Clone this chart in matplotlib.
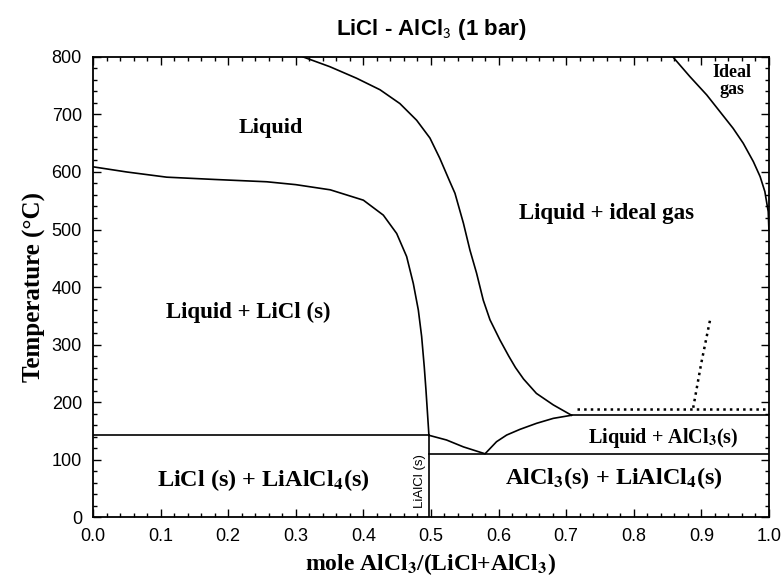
import numpy as np
import matplotlib.pyplot as plt
from matplotlib.ticker import MultipleLocator

plt.rcParams['mathtext.fontset'] = 'stix'

# Phase boundaries (x = mole fraction AlCl3, T in degC)
licl_liq_x = [0.0, 0.05, 0.109, 0.18, 0.257, 0.30, 0.351, 0.40, 0.4295, 0.4493,
              0.464, 0.4739, 0.4813, 0.4862, 0.4901, 0.4926, 0.497]
licl_liq_t = [609, 600, 591, 587, 583, 578, 569, 551, 525, 493,
              453, 406, 360, 314, 261, 221, 142]

vap_x = [0.311, 0.3506, 0.390, 0.4246, 0.454, 0.4788, 0.4985, 0.513, 0.528, 0.5355,
         0.548, 0.5577, 0.5675, 0.5774, 0.5873, 0.602, 0.615, 0.625, 0.637, 0.656,
         0.681, 0.708]
vap_t = [800, 783, 763, 743, 719, 690, 659, 624, 583, 563,
         511, 464, 424, 377, 343, 308, 280, 260, 240, 215,
         195, 177]

gas_x = [0.858, 0.883, 0.908, 0.9275, 0.947, 0.962, 0.977, 0.987, 0.994, 0.999, 1.0]
gas_t = [800, 766, 734, 705, 676, 650, 618, 592, 566, 531, 500]

# eutectic valley between LiAlCl4 and AlCl3
valley_x = [0.4975, 0.523, 0.548, 0.58, 0.5873, 0.597, 0.612, 0.6317, 0.6563, 0.681, 0.708]
valley_t = [142, 134, 122, 110, 119, 131, 142.6, 152.5, 163, 171.6, 177]

dot_x = [0.888, 0.900, 0.913]
dot_t = [190, 268, 343]
dot_h_x = [0.716, 1.0]
dot_h_t = [188, 188]

t_licl_eut = 142
t_alcl3_eut = 110
t_alcl3_sub = 177
x_lialcl4 = 0.4975

xticks = np.arange(0, 1.01, 0.1)
yticks = np.arange(0, 801, 100)

serif = ['Liberation Serif', 'DejaVu Serif']
sans = ['Liberation Sans', 'DejaVu Sans']

fig = plt.figure(figsize=(7.83, 5.79), dpi=100)
ax = fig.add_axes([0.1188, 0.107, 0.8632, 0.7946])

lw = 1.2
ax.plot(licl_liq_x, licl_liq_t, 'k-', lw=lw)
ax.plot(vap_x, vap_t, 'k-', lw=lw)
ax.plot(gas_x, gas_t, 'k-', lw=lw)
ax.plot(valley_x, valley_t, 'k-', lw=lw)
ax.plot([0, x_lialcl4], [t_licl_eut, t_licl_eut], 'k-', lw=lw)
ax.plot([x_lialcl4, 1.0], [t_alcl3_eut, t_alcl3_eut], 'k-', lw=lw)
ax.plot([valley_x[-1], 1.0], [t_alcl3_sub, t_alcl3_sub], 'k-', lw=lw)
ax.plot([x_lialcl4, x_lialcl4], [0, t_licl_eut], 'k-', lw=lw)
ax.plot(dot_x, dot_t, 'k:', lw=1.8)
ax.plot(dot_h_x, dot_h_t, 'k:', lw=1.8)

ax.set_xlim(0, 1)
ax.set_ylim(0, 800)
ax.set_xticks(xticks)
ax.set_yticks(yticks)
ax.set_xticklabels([f'{v:.1f}' for v in xticks], family=sans, fontsize=13)
ax.set_yticklabels([f'{int(v)}' for v in yticks], family=sans, fontsize=13)
ax.xaxis.set_minor_locator(MultipleLocator(0.02))
ax.yaxis.set_minor_locator(MultipleLocator(20))
ax.tick_params(which='both', direction='in', top=True, right=True, width=1.0)
ax.tick_params(which='major', length=6, pad=8)
ax.tick_params(which='minor', length=3)
for s in ax.spines.values():
    s.set_linewidth(1.3)

ax.set_title(r'LiCl - AlCl$_\mathsf{3}$ (1 bar)', family=sans, fontsize=16,
             fontweight='bold', pad=16)
ax.set_xlabel(r'mole AlCl$_\mathbf{3}$/(LiCl+AlCl$_\mathbf{3}$)', family=serif,
              fontsize=17, fontweight='bold', labelpad=4)
ax.set_ylabel('Temperature (°C)', family=serif, fontsize=18, fontweight='bold', labelpad=4)

lab = dict(family=serif, fontweight='bold', ha='center', va='center')
ax.text(0.263, 677, 'Liquid', fontsize=16, **lab)
ax.text(0.229, 356, 'Liquid + LiCl (s)', fontsize=16.5, **lab)
ax.text(0.760, 528, 'Liquid + ideal gas', fontsize=16.5, **lab)
ax.text(0.945, 758, 'Ideal\ngas', fontsize=13, linespacing=0.95, **lab)
ax.text(0.843, 137, r'Liquid + AlCl$_\mathbf{3}$(s)', fontsize=14.5, **lab)
ax.text(0.771, 68, r'AlCl$_\mathbf{3}$(s) + LiAlCl$_\mathbf{4}$(s)', fontsize=17.5, **lab)
ax.text(0.252, 64, r'LiCl (s) + LiAlCl$_\mathbf{4}$(s)', fontsize=17.5, **lab)
ax.text(0.484, 62, 'LiAlCl (s)', family=sans, fontsize=9.5, rotation=90,
        ha='center', va='center')

fig.savefig('out.png', dpi=100)
